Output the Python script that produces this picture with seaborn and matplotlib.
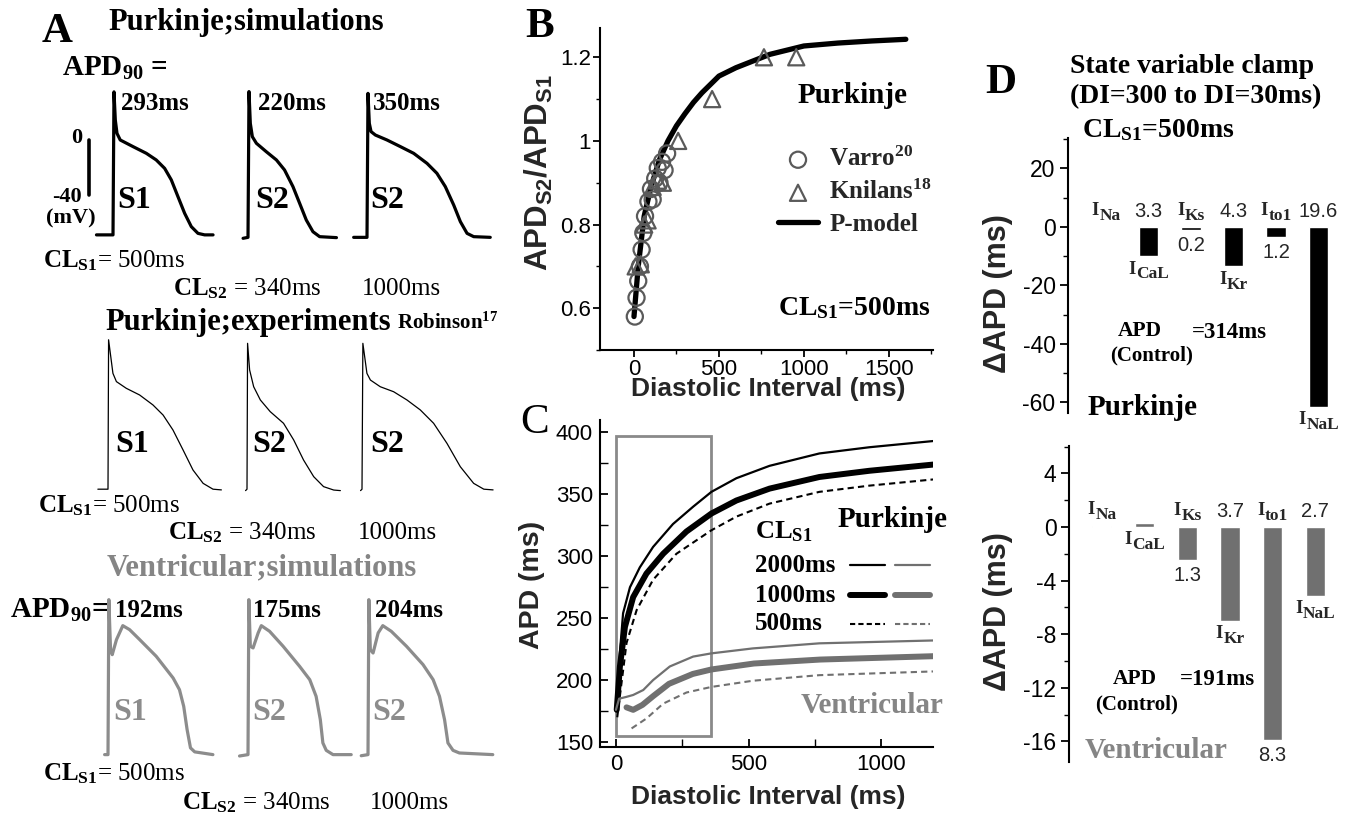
import numpy as np
import pandas as pd
import matplotlib
matplotlib.use("Agg")
import matplotlib.pyplot as plt
import seaborn as sns
from matplotlib.lines import Line2D
from matplotlib.patches import Rectangle
from matplotlib.ticker import MultipleLocator
from matplotlib.font_manager import FontProperties

# ---------------- DATA ----------------
# Panel A: action potentials (time ms from upstroke, voltage mV)
P_SIM_S1_T = [-57, 0, 3.4, 8, 13.8, 25, 69, 115, 149, 178, 201, 224, 247, 270, 293, 316, 345]
P_SIM_S1_V = [-69, -69, 35, 14.5, 4.8, 0, -4.8, -9.7, -14.5, -20.6, -29, -41.2, -53.3, -63, -67.9, -69, -69]
P_SIM_S2A_T = [-17, 0, 3.4, 8, 15, 29, 63, 98, 126, 155, 178, 201, 224, 247, 305]
P_SIM_S2A_V = [-71.5, -70.8, 35.2, 12.1, 2.4, -2.4, -8.5, -14.5, -21.8, -33.9, -46, -58.2, -66.7, -70.3, -71]
P_SIM_S2B_T = [-46, 0, 3.4, 8, 14, 29, 69, 115, 161, 207, 241, 270, 299, 322, 345, 368, 425]
P_SIM_S2B_V = [-70.8, -70.8, 33.9, 12.1, 6.1, 3.6, 0, -4.8, -9.7, -17, -24.2, -33.9, -47.3, -59.4, -67.9, -70.3, -70.8]

P_EXP_S1_T = [-35, 0, 2, 17, 29, 63, 109, 155, 190, 224, 259, 293, 328, 362, 391]
P_EXP_S1_V = [-69, -69, 36, 12.4, 6.6, 1.9, -2.8, -9.8, -16.9, -27.4, -41.5, -55.5, -64.9, -69, -69.5]
P_EXP_S2A_T = [-5, 0, 2, 9, 23, 46, 80, 126, 161, 195, 230, 264, 299, 322]
P_EXP_S2A_V = [-70, -69, 33.5, 14.8, 3.0, -6.3, -14.5, -22.7, -34.4, -48.5, -60.2, -67.2, -69.6, -70]
P_EXP_S2B_T = [-5, 0, 3, 17, 29, 63, 109, 155, 201, 247, 293, 339, 385, 420, 452]
P_EXP_S2B_V = [-70, -69, 33.5, 12.4, 7.7, 3.0, -0.5, -6.3, -13.3, -22.7, -36.8, -53.2, -64.9, -69, -69.5]

V_SIM_S1_T = [-8, 0, 2, 6, 10, 20, 35, 51, 75, 114, 154, 169, 179, 187, 195, 205, 248]
V_SIM_S1_V = [-87, -87, 25.7, -10.7, -14.3, -3.4, 6.8, 3.9, -3.4, -15.5, -31.3, -39.8, -51.9, -68.8, -82.1, -85, -87]
V_SIM_S2A_T = [-20, 0, 2, 5.5, 12, 24, 31.5, 51, 83, 122, 146, 161, 171, 177, 185, 201, 244]
V_SIM_S2A_V = [-88, -87, 25.7, -8.2, -9.4, 1.5, 6.8, 2.7, -8.2, -22.8, -32.5, -44.6, -61.6, -78.5, -83.9, -87, -87]
V_SIM_S2B_T = [-16, 0, 2, 5.5, 12, 24, 35, 55, 91, 130, 154, 169, 181, 189, 201, 216, 295]
V_SIM_S2B_V = [-87.8, -87, 25.7, -10.7, -13.1, 1.5, 6.8, 2.7, -8.2, -21.5, -32.5, -44.6, -61.6, -78.5, -83.9, -85.8, -87]

SCALEBAR_MV = [0, -40]
APD90_PURK = ["293ms", "220ms", "350ms"]
APD90_VENT = ["192ms", "175ms", "204ms"]

# Panel B: restitution ratio
VARRO_DI = [5, 15, 25, 35, 45, 55, 65, 85, 100, 110, 125, 140, 150, 165, 180, 195]
VARRO_RATIO = [0.58, 0.625, 0.665, 0.70, 0.74, 0.78, 0.82, 0.855, 0.885, 0.86, 0.91, 0.935, 0.90, 0.95, 0.93, 0.97]
KNILANS_DI = [10, 40, 60, 80, 110, 140, 170, 260, 460, 765, 955]
KNILANS_RATIO = [0.70, 0.705, 0.80, 0.81, 0.89, 0.905, 0.90, 1.0, 1.10, 1.20, 1.20]
PMODEL_DI = [0, 25, 60, 100, 150, 200, 250, 300, 350, 400, 500, 600, 700, 800, 900, 1000, 1200, 1400, 1600]
PMODEL_RATIO = [0.58, 0.70, 0.82, 0.89, 0.955, 1.0, 1.036, 1.065, 1.092, 1.115, 1.155, 1.175, 1.191,
                1.207, 1.217, 1.227, 1.234, 1.239, 1.243]

# Panel C: APD restitution curves
DI_P2000 = [3, 15, 27, 53, 90, 140, 215, 291, 360, 454, 579, 767, 955, 1195]
APD_P2000 = [180, 222, 254, 275, 291, 307.5, 326, 340, 352, 363, 373, 383, 388, 393]
DI_P1000 = [3, 15, 34, 65, 115, 178, 266, 360, 454, 579, 767, 955, 1195]
APD_P1000 = [176, 211, 243, 267, 286, 302, 320, 334.5, 345, 354.6, 364, 369, 374]
DI_P500 = [5, 21, 40, 78, 140, 228, 360, 454, 579, 767, 955, 1195]
APD_P500 = [170, 197.5, 230, 256.5, 281, 302, 321, 332, 342.5, 352, 357, 362]
DI_V2000 = [0, 12, 40, 65, 103, 140, 203, 291, 360, 516, 767, 1195]
APD_V2000 = [176, 185, 186.5, 188, 192, 200, 211, 219, 221.6, 225.6, 229.7, 232]
DI_V1000 = [40, 65, 100, 140, 200, 290, 360, 520, 770, 1195]
APD_V1000 = [178, 176, 180, 187, 197, 205, 208.6, 213.4, 216.6, 219.3]
DI_V500 = [59, 115, 178, 266, 360, 516, 767, 1195]
APD_V500 = [161, 169, 181, 190, 194.5, 199.5, 204, 207]
ZOOM_BOX = [0, 360, 155, 397]  # DI from, DI to, APD from, APD to
CL_LABELS = ["2000ms", "1000ms", "500ms"]

# Panel D: state variable clamp
CURRENTS = ["INa", "ICaL", "IKs", "IKr", "Ito1", "INaL"]
NAME_ABOVE = [True, False, True, False, True, False]
PURK_DAPD = [0.0, -10.0, -1.0, -13.5, -3.5, -61.4]
PURK_SD = [None, "3.3", "0.2", "4.3", "1.2", "19.6"]
VENT_DAPD = [0.1, 0.3, -2.46, -7.0, -15.9, -5.15]
VENT_SD = [None, None, "1.3", "3.7", "8.3", "2.7"]

# ---------------- STYLE ----------------
W, H = 1358, 817
sns.set_style("ticks")
SERIF = ["Liberation Serif", "DejaVu Serif"]
SANS = ["Liberation Sans", "DejaVu Sans"]
plt.rcParams.update({
    "font.family": SANS,
    "mathtext.fontset": "custom",
    "mathtext.rm": "Liberation Serif",
    "mathtext.bf": "Liberation Serif:bold",
    "mathtext.it": "Liberation Serif:italic",
    "mathtext.sf": "Liberation Sans",
    "axes.unicode_minus": False,
    "axes.linewidth": 1.5,
    "xtick.major.width": 1.3, "ytick.major.width": 1.3,
    "xtick.minor.width": 1.0, "ytick.minor.width": 1.0,
    "xtick.color": "black", "ytick.color": "black",
    "axes.edgecolor": "black",
})
BLACK = "black"
GRAY = "#707070"
GRAY_A = "#8c8c8c"
GRAY_TXT = "#858585"

fig = plt.figure(figsize=(W / 100, H / 100), dpi=100)
renderer = fig.canvas.get_renderer()


def ftext(x, y, s, size=18, weight="bold", color="black", family=None, ha="left", va="baseline", **kw):
    fig.text(x / W, 1 - y / H, s, fontsize=size, fontweight=weight, color=color,
             family=family or SERIF, ha=ha, va=va, **kw)


def trace_axes(x_up, y0, pxms, pxmv, xlim=(-100, 460), ylim=(-100, 45)):
    left = x_up + xlim[0] * pxms
    width = (xlim[1] - xlim[0]) * pxms
    top = y0 - ylim[1] * pxmv
    height = (ylim[1] - ylim[0]) * pxmv
    ax = fig.add_axes([left / W, 1 - (top + height) / H, width / W, height / H])
    ax.set_xlim(xlim)
    ax.set_ylim(ylim)
    ax.axis("off")
    ax.patch.set_alpha(0)
    return ax


def draw_trace(ax, t, v, color, lw):
    sns.lineplot(x=t, y=v, ax=ax, color=color, lw=lw, estimator=None, sort=False,
                 legend=False, solid_joinstyle="round")
    for ln in ax.lines:
        ln.set_clip_on(False)


# ---------------- PANEL A ----------------
rows = [
    dict(y0=140, pxms=0.29, pxmv=1.375, ups=[113, 248, 367], color=BLACK, lw=2.3,
         data=[(P_SIM_S1_T, P_SIM_S1_V), (P_SIM_S2A_T, P_SIM_S2A_V), (P_SIM_S2B_T, P_SIM_S2B_V)]),
    dict(y0=391, pxms=0.29, pxmv=1.423, ups=[108, 247, 362], color=BLACK, lw=0.9,
         data=[(P_EXP_S1_T, P_EXP_S1_V), (P_EXP_S2A_T, P_EXP_S2A_V), (P_EXP_S2B_T, P_EXP_S2B_V)]),
    dict(y0=635, pxms=0.423, pxmv=1.375, ups=[108, 248, 368], color=GRAY_A, lw=2.3,
         data=[(V_SIM_S1_T, V_SIM_S1_V), (V_SIM_S2A_T, V_SIM_S2A_V), (V_SIM_S2B_T, V_SIM_S2B_V)]),
]
trace_axes_list = []
for r in rows:
    row_axes = []
    for xu, (t, v) in zip(r["ups"], r["data"]):
        ax = trace_axes(xu, r["y0"], r["pxms"], r["pxmv"])
        draw_trace(ax, t, v, r["color"], r["lw"])
        row_axes.append(ax)
    trace_axes_list.append(row_axes)

# scale bar on first trace
axs1 = trace_axes_list[0][0]
axs1.plot([-83, -83], SCALEBAR_MV, color=BLACK, lw=2.6, clip_on=False)

ftext(42, 42, "A", size=31)
ftext(108, 30, "Purkinje;simulations", size=22)
ftext(62, 76, r"APD$_{\mathdefault{90}}$ =", size=21)
for x, s in zip([121, 258, 373], APD90_PURK):
    ftext(x, 110, s, size=18)
ftext(82, 138, "0", size=16, ha="right", va="center")
ftext(82, 197, "-40", size=16, ha="right", va="center")
ftext(71, 218, "(mV)", size=16, ha="center", va="center")
for x, s in zip([117, 255, 370], ["S1", "S2", "S2"]):
    ftext(x, 208, s, size=23)
ftext(43, 267, r"$\mathbf{CL_{S1}}$= 500ms", size=18, weight="normal")
ftext(173, 295, r"$\mathbf{CL_{S2}}$ = 340ms", size=18, weight="normal")
ftext(362, 295, "1000ms", size=18, weight="normal")

ftext(105, 330, "Purkinje;experiments", size=22)
ftext(397, 329, r"Robinson$^{\mathdefault{17}}$", size=15)
for x, s in zip([115, 252, 370], ["S1", "S2", "S2"]):
    ftext(x, 452, s, size=23)
ftext(38, 512, r"$\mathbf{CL_{S1}}$= 500ms", size=18, weight="normal")
ftext(168, 539, r"$\mathbf{CL_{S2}}$ = 340ms", size=18, weight="normal")
ftext(358, 539, "1000ms", size=18, weight="normal")

ftext(107, 575, "Ventricular;simulations", size=22, color=GRAY_TXT)
ftext(10, 618, r"APD$_{\mathdefault{90}}$=", size=21)
for x, s in zip([115, 253, 375], APD90_VENT):
    ftext(x, 617, s, size=18)
for x, s in zip([113, 252, 372], ["S1", "S2", "S2"]):
    ftext(x, 720, s, size=23, color=GRAY_A)
ftext(43, 780, r"$\mathbf{CL_{S1}}$= 500ms", size=18, weight="normal")
ftext(182, 809, r"$\mathbf{CL_{S2}}$ = 340ms", size=18, weight="normal")
ftext(370, 809, "1000ms", size=18, weight="normal")

# ---------------- PANEL B ----------------
axB = fig.add_axes([600 / W, 1 - 350 / H, 333 / W, 322 / H])
sns.lineplot(x=PMODEL_DI, y=PMODEL_RATIO, ax=axB, color=BLACK, lw=3.8, estimator=None, sort=False)
hp = axB.lines[-1]
sns.scatterplot(x=VARRO_DI, y=VARRO_RATIO, ax=axB, marker="o", s=135, color="#5a5a5a",
                facecolor="none", edgecolor="#5a5a5a", linewidth=1.6, zorder=3)
hv = axB.collections[-1]
sns.scatterplot(x=KNILANS_DI, y=KNILANS_RATIO, ax=axB, marker="^", s=135, color="#5a5a5a",
                facecolor="none", edgecolor="#5a5a5a", linewidth=1.6, zorder=3)
hk = axB.collections[-1]
axB.set_xlim(-200, 1760)
axB.set_ylim(0.5, 1.27)
axB.set_xticks([0, 500, 1000, 1500])
axB.set_yticks([0.6, 0.8, 1.0, 1.2])
axB.set_yticklabels(["0.6", "0.8", "1", "1.2"])
axB.xaxis.set_minor_locator(MultipleLocator(250))
axB.yaxis.set_minor_locator(MultipleLocator(0.1))
axB.tick_params(which="major", direction="out", length=5, labelsize=16, pad=1.5)
axB.tick_params(which="minor", direction="out", length=3)
sns.despine(ax=axB)
axB.set_xlabel("Diastolic Interval (ms)", fontsize=19, fontweight="bold")
axB.set_ylabel(r"$\mathdefault{APD_{S2}/APD_{S1}}$", fontsize=22.5, fontweight="bold")
axB.xaxis.set_label_coords(0.505, -0.085)
axB.yaxis.set_label_coords(-0.135, 0.55)
axB.xaxis.label.set_va("top")
legB = axB.legend(handles=[hv, hk, hp],
                  labels=[r"Varro$^{\mathdefault{20}}$", r"Knilans$^{\mathdefault{18}}$", "P-model"],
                  prop=FontProperties(family=SERIF, weight="bold", size=18), frameon=False,
                  handlelength=1.6, handletextpad=0.45, labelspacing=0.35, borderpad=0,
                  borderaxespad=0, loc="upper left", scatterpoints=1,
                  bbox_to_anchor=(778 / W, 1 - 147 / H), bbox_transform=fig.transFigure)
ftext(525, 37, "B", size=31)
ftext(853, 103, "Purkinje", size=21, ha="center")
ftext(778, 315, r"$\mathbf{CL_{S1}}$=500ms", size=20)

# ---------------- PANEL C ----------------
axC = fig.add_axes([600 / W, 1 - 747 / H, 333 / W, 327 / H])
curves = [
    (DI_P2000, APD_P2000, BLACK, 1.6, "-"),
    (DI_P1000, APD_P1000, BLACK, 4.3, "-"),
    (DI_P500, APD_P500, BLACK, 1.5, "--"),
    (DI_V2000, APD_V2000, GRAY, 1.6, "-"),
    (DI_V1000, APD_V1000, GRAY, 4.3, "-"),
    (DI_V500, APD_V500, GRAY, 1.5, "--"),
]
handles_C = []
for xs, ys, c, lw, ls in curves:
    sns.lineplot(x=xs, y=ys, ax=axC, color=c, lw=lw, linestyle=ls, estimator=None, sort=False)
    ln = axC.lines[-1]
    if ls == "--":
        ln.set_dashes((3, 2))
    handles_C.append(ln)
axC.add_patch(Rectangle((ZOOM_BOX[0], ZOOM_BOX[2]), ZOOM_BOX[1] - ZOOM_BOX[0], ZOOM_BOX[3] - ZOOM_BOX[2],
                        fill=False, edgecolor="#8a8a8a", lw=2.0, zorder=1))
axC.set_xlim(-60, 1195)
axC.set_ylim(146, 410)
axC.set_xticks([0, 500, 1000])
axC.set_yticks([150, 200, 250, 300, 350, 400])
axC.xaxis.set_minor_locator(MultipleLocator(250))
axC.yaxis.set_minor_locator(MultipleLocator(25))
axC.tick_params(which="major", direction="in", length=6, labelsize=16, pad=5)
axC.tick_params(which="minor", direction="in", length=6)
sns.despine(ax=axC)
axC.set_xlabel("Diastolic Interval (ms)", fontsize=19, fontweight="bold")
axC.set_ylabel("APD (ms)", fontsize=20.5, fontweight="bold")
axC.xaxis.set_label_coords(0.505, -0.116)
axC.yaxis.set_label_coords(-0.165, 0.495)
axC.xaxis.label.set_va("top")

# manual legend for panel C (CL_S1 rows: label, black sample, gray sample)
ftext(755, 538, r"$\mathbf{CL_{S1}}$", size=19)
for k, (lab, yrow) in enumerate(zip(CL_LABELS, [565, 595, 624])):
    ftext(755, yrow, lab, size=18, va="center")
    for h, (x1, x2) in zip([handles_C[k], handles_C[k + 3]], [(850, 885), (895, 930)]):
        ln = Line2D([x1 / W, x2 / W], [1 - yrow / H, 1 - yrow / H], transform=fig.transFigure,
                    color=h.get_color(), lw=h.get_linewidth(), linestyle=h.get_linestyle())
        if k == 2:
            ln.set_dashes((2.5, 1.5))
        fig.add_artist(ln)
ftext(520, 433, "C", size=31, weight="normal")
ftext(893, 527, "Purkinje", size=21, ha="center")
ftext(872, 713, "Ventricular", size=21, ha="center", color=GRAY_TXT)


# ---------------- PANEL D ----------------
def name_label(ax, i, anchor, name, above):
    """Current name: big 'I' with a large, slightly lowered subscript, centred on the bar."""
    base, sub = name[0], name[1:]
    y_off = 8.6 if above else -12.5
    kw = dict(xy=(i, anchor), textcoords="offset points", ha="left", va="baseline",
              fontweight="bold", family=SERIF)
    tb = ax.annotate(base, xytext=(0, y_off), fontsize=13.5, **kw)
    ts = ax.annotate(sub, xytext=(0, y_off - 3.5), fontsize=12.5, **kw)
    wb = tb.get_window_extent(renderer).width * 0.72
    ws = ts.get_window_extent(renderer).width * 0.72
    x0 = -(wb + ws) / 2
    tb.xyann = (x0, y_off)
    ts.xyann = (x0 + wb + 0.3, y_off - 3.5)


def bar_panel(rect, vals, sds, color, xlim, ylim, major, minor):
    ax = fig.add_axes(rect)
    df = pd.DataFrame({"current": CURRENTS, "dAPD": vals})
    sns.barplot(data=df, x="current", y="dAPD", order=CURRENTS, color=color, saturation=1,
                width=0.45, errorbar=None, ax=ax)
    ax.set_xlim(xlim)
    ax.set_ylim(ylim)
    ax.set_xticks([])
    ax.set_xlabel("")
    ax.set_yticks(major)
    ax.yaxis.set_minor_locator(MultipleLocator(minor))
    ax.tick_params(which="major", direction="out", length=6, labelsize=16.5, pad=3)
    ax.tick_params(which="minor", direction="out", length=3.5)
    sns.despine(ax=ax, bottom=True)
    ax.patch.set_alpha(0)
    for i, (v, sd, above, name) in enumerate(zip(vals, sds, NAME_ABOVE, CURRENTS)):
        top_anchor = max(v, 0)
        bot_anchor = min(v, 0)
        name_label(ax, i, top_anchor if above else bot_anchor, name, above)
        if sd:
            if above:
                ax.annotate(sd, xy=(i, bot_anchor), xytext=(0, -4.5), textcoords="offset points",
                            ha="center", va="top", fontsize=14.5, family=SANS)
            else:
                ax.annotate(sd, xy=(i, top_anchor), xytext=(0, 4.5), textcoords="offset points",
                            ha="center", va="bottom", fontsize=14.5, family=SANS)
    return ax


axD1 = bar_panel([1068 / W, 1 - 413 / H, 290 / W, 275 / H], PURK_DAPD, PURK_SD, BLACK,
                 (-0.894, 5.93), (-63.6, 30.4), [20, 0, -20, -40, -60], 10)
axD1.set_ylabel("ΔAPD (ms)", fontsize=22, fontweight="bold")
axD1.yaxis.set_label_coords(-0.19, 0.436)
axD2 = bar_panel([1069 / W, 1 - 762 / H, 289 / W, 316 / H], VENT_DAPD, VENT_SD, GRAY,
                 (-0.77, 6.0), (-17.54, 6.04), [4, 0, -4, -8, -12, -16], 2)
axD2.set_ylabel("ΔAPD (ms)", fontsize=22, fontweight="bold")
axD2.yaxis.set_label_coords(-0.194, 0.475)

ftext(985, 93, "D", size=31)
ftext(1070, 73, "State variable clamp", size=20)
ftext(1070, 103, "(DI=300 to DI=30ms)", size=20)
ftext(1082, 137, r"$\mathbf{CL_{S1}}$=500ms", size=20)
ftext(1140, 336, "APD", size=15.5, ha="center")
ftext(1152, 360, "(Control)", size=15, ha="center")
ftext(1192, 338, "=314ms", size=16.5)
ftext(1088, 415, "Purkinje", size=21)
ftext(1135, 684, "APD", size=15.5, ha="center")
ftext(1137, 709, "(Control)", size=15, ha="center")
ftext(1180, 685, "=191ms", size=16.5)
ftext(1085, 758, "Ventricular", size=21, color=GRAY_TXT)

fig.savefig("out.png", dpi=100)
